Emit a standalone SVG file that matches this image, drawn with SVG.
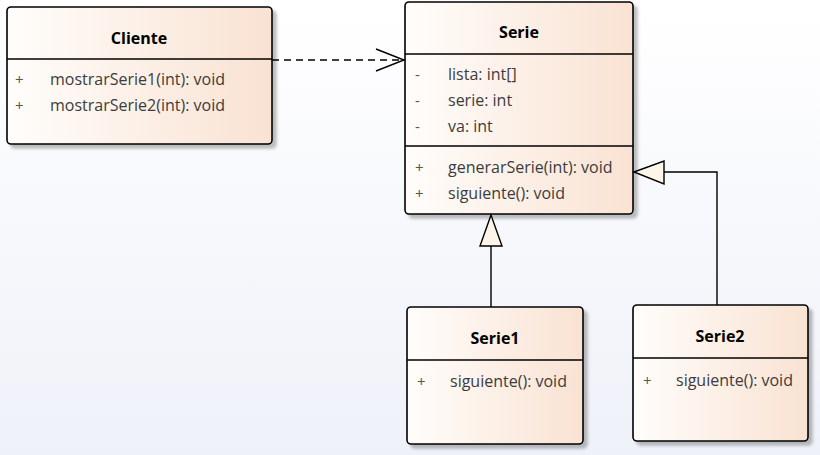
<svg xmlns="http://www.w3.org/2000/svg" width="820" height="455" viewBox="0 0 820 455">
<defs>
<linearGradient id="bg" x1="0" y1="0" x2="0" y2="1"><stop offset="0" stop-color="#ffffff"/><stop offset="1" stop-color="#eef1f8"/></linearGradient>
<linearGradient id="fill" x1="0" y1="0" x2="1" y2="0"><stop offset="0" stop-color="#fffdfb"/><stop offset="1" stop-color="#f9e2d2"/></linearGradient>
<filter id="sh" x="-10%" y="-10%" width="130%" height="130%"><feGaussianBlur in="SourceAlpha" stdDeviation="1.5"/><feOffset dx="4" dy="4"/><feComponentTransfer><feFuncA type="linear" slope="0.25"/></feComponentTransfer><feMerge><feMergeNode/><feMergeNode in="SourceGraphic"/></feMerge></filter>
</defs>
<style>
.box{fill:url(#fill);stroke:#000;stroke-width:1.6}
.div{stroke:#000;stroke-width:1.4}
.t{font-family:"Open Sans","Noto Sans",sans-serif;font-size:16px;font-weight:bold;fill:#000;text-anchor:middle}
.m{font-family:"Open Sans","Noto Sans",sans-serif;font-size:16px;fill:#3c3c3c}
.p{font-family:"Open Sans","Noto Sans",sans-serif;font-size:15px;fill:#555}
.ln{stroke:#000;stroke-width:1.4;fill:none}
.tri{fill:#fdf6e8;stroke:#000;stroke-width:1.4}
</style>
<rect width="820" height="455" fill="url(#bg)"/>
<g id="Cliente">
<rect class="box" x="7" y="7" width="265" height="137" rx="4" filter="url(#sh)"/>
<line class="div" x1="7" y1="59" x2="272" y2="59"/>
<text class="t" x="139" y="44">Cliente</text>
<text class="p" x="15" y="85">+</text><text class="m" x="50" y="85">mostrarSerie1(int): void</text>
<text class="p" x="15" y="111">+</text><text class="m" x="50" y="111">mostrarSerie2(int): void</text>
</g>
<g id="Serie">
<rect class="box" x="405" y="2" width="228" height="212" rx="4" filter="url(#sh)"/>
<line class="div" x1="405" y1="54" x2="633" y2="54"/>
<line class="div" x1="405" y1="146" x2="633" y2="146"/>
<text class="t" x="519" y="38">Serie</text>
<text class="p" x="415" y="80">-</text><text class="m" x="448" y="80">lista: int[]</text>
<text class="p" x="415" y="106">-</text><text class="m" x="448" y="106">serie: int</text>
<text class="p" x="415" y="132">-</text><text class="m" x="448" y="132">va: int</text>
<text class="p" x="415" y="173">+</text><text class="m" x="448" y="173">generarSerie(int): void</text>
<text class="p" x="415" y="199">+</text><text class="m" x="448" y="199">siguiente(): void</text>
</g>
<g id="Serie1">
<rect class="box" x="407" y="307" width="176" height="137" rx="4" filter="url(#sh)"/>
<line class="div" x1="407" y1="360" x2="583" y2="360"/>
<text class="t" x="495" y="344">Serie1</text>
<text class="p" x="417" y="387">+</text><text class="m" x="450" y="387">siguiente(): void</text>
</g>
<g id="Serie2">
<rect class="box" x="633" y="305" width="175" height="136" rx="4" filter="url(#sh)"/>
<line class="div" x1="633" y1="358" x2="808" y2="358"/>
<text class="t" x="720" y="342">Serie2</text>
<text class="p" x="643" y="386">+</text><text class="m" x="676" y="386">siguiente(): void</text>
</g>
<g id="connectors">
<line class="ln" x1="272" y1="60" x2="404" y2="60" stroke-dasharray="7,5"/>
<polyline class="ln" points="376,49 404,60 376,71"/>
<line class="ln" x1="491" y1="307" x2="491" y2="246"/>
<polygon class="tri" points="491,215 480,246 502,246"/>
<polyline class="ln" points="717,305 717,172 664,172"/>
<polygon class="tri" points="634,172 664,161 664,184"/>
</g>
</svg>
